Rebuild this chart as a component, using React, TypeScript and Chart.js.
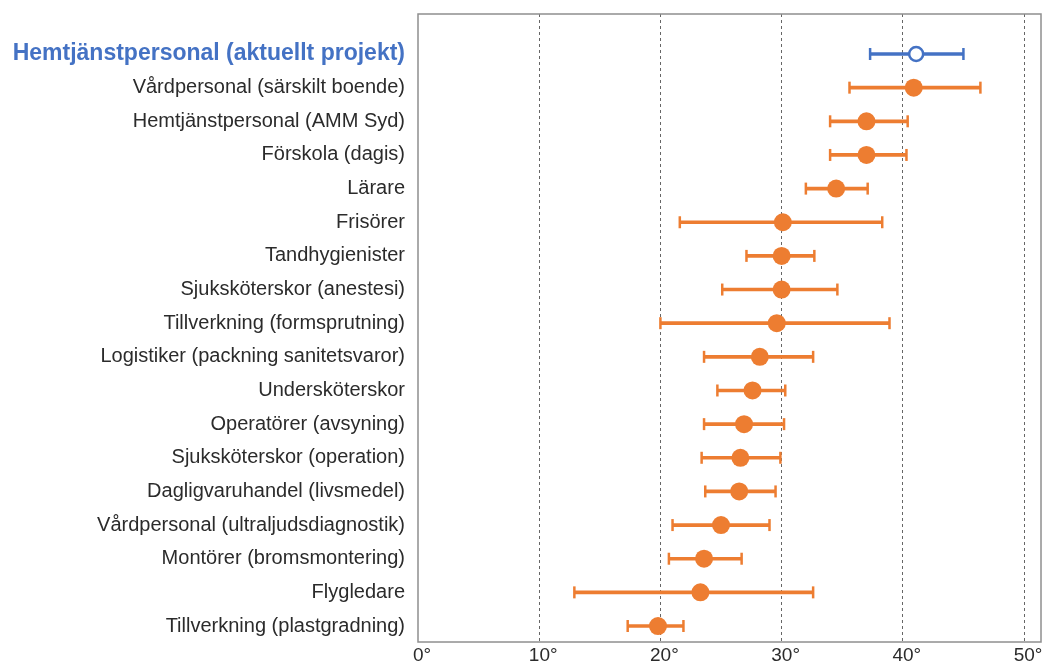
import { useEffect, useRef } from 'react';
import { Chart, registerables } from 'chart.js';

Chart.register(...registerables);

const categories = [
  'Hemtjänstpersonal (aktuellt projekt)',
  'Vårdpersonal (särskilt boende)',
  'Hemtjänstpersonal (AMM Syd)',
  'Förskola (dagis)',
  'Lärare',
  'Frisörer',
  'Tandhygienister',
  'Sjuksköterskor (anestesi)',
  'Tillverkning (formsprutning)',
  'Logistiker (packning sanitetsvaror)',
  'Undersköterskor',
  'Operatörer (avsyning)',
  'Sjuksköterskor (operation)',
  'Dagligvaruhandel (livsmedel)',
  'Vårdpersonal (ultraljudsdiagnostik)',
  'Montörer (bromsmontering)',
  'Flygledare',
  'Tillverkning (plastgradning)',
];

const means = [41.1, 40.9, 37.0, 37.0, 34.5, 30.1, 30.0, 30.0, 29.6, 28.2, 27.6, 26.9, 26.6, 26.5, 25.0, 23.6, 23.3, 19.8];
const lows = [37.3, 35.6, 34.0, 34.0, 32.0, 21.6, 27.1, 25.1, 20.0, 23.6, 24.7, 23.6, 23.4, 23.7, 21.0, 20.7, 12.9, 17.3];
const highs = [45.0, 46.4, 40.4, 40.3, 37.1, 38.3, 32.7, 34.6, 38.9, 32.6, 30.3, 30.2, 29.9, 29.5, 29.0, 26.7, 32.6, 21.9];
const xTicks = [0, 10, 20, 30, 40, 50];

const BLUE = '#4472C4';
const ORANGE = '#ED7D31';
const TEXT = '#2b2b2b';
const FONT = '"Liberation Sans", Arial, sans-serif';

const colors = categories.map((_, i) => (i === 0 ? BLUE : ORANGE));

const boxPlugin = {
  id: 'boxPlugin',
  afterDraw(chart: any) {
    const { ctx, chartArea } = chart;
    ctx.save();
    ctx.strokeStyle = '#8f8f8f';
    ctx.lineWidth = 1.5;
    ctx.strokeRect(chartArea.left, chartArea.top, chartArea.right - chartArea.left, chartArea.bottom - chartArea.top);
    ctx.restore();
  },
};

const zeroPadding = (scale: any) => {
  scale.paddingTop = 0;
  scale.paddingBottom = 0;
  scale.paddingLeft = 0;
  scale.paddingRight = 0;
};

export default function App() {
  const ref = useRef<HTMLCanvasElement | null>(null);

  useEffect(() => {
    document.body.style.margin = '0';
    const canvas = ref.current;
    if (!canvas) return;
    const chart = new Chart(canvas, {
      type: 'bar',
      data: {
        datasets: [
          {
            type: 'line',
            showLine: false,
            data: means.map((v, i) => ({ x: v, y: i })),
            pointRadius: means.map((_, i) => (i === 0 ? 7 : 9)),
            pointBackgroundColor: means.map((_, i) => (i === 0 ? '#ffffff' : ORANGE)),
            pointBorderColor: colors,
            pointBorderWidth: means.map((_, i) => (i === 0 ? 2.5 : 0)),
            order: 1,
          } as any,
          {
            type: 'line',
            showLine: false,
            data: lows.map((v, i) => ({ x: v, y: i })),
            pointStyle: 'line',
            rotation: 90,
            pointRadius: 6,
            pointBorderWidth: 2.5,
            pointBorderColor: colors,
            order: 2,
          } as any,
          {
            type: 'line',
            showLine: false,
            data: highs.map((v, i) => ({ x: v, y: i })),
            pointStyle: 'line',
            rotation: 90,
            pointRadius: 6,
            pointBorderWidth: 2.5,
            pointBorderColor: colors,
            order: 2,
          } as any,
          {
            type: 'bar',
            data: lows.map((v, i) => ({ x: [v, highs[i]], y: i })),
            backgroundColor: colors,
            barThickness: 3,
            order: 3,
          } as any,
        ],
      },
      options: {
        indexAxis: 'y',
        responsive: false,
        animation: false,
        layout: { autoPadding: false, padding: { top: 14, right: 2, left: 0, bottom: 0 } },
        plugins: {
          legend: { display: false },
          tooltip: { enabled: false },
        },
        scales: {
          x: {
            type: 'linear',
            min: 0,
            max: 51.4,
            offset: false,
            afterBuildTicks: (scale: any) => {
              scale.ticks = xTicks.map((v) => ({ value: v }));
            },
            afterFit: (scale: any) => {
              scale.height = 22;
              zeroPadding(scale);
            },
            grid: {
              offset: false,
              color: (ctx: any) => (ctx.tick && ctx.tick.value === 0 ? 'rgba(0,0,0,0)' : '#666666'),
              lineWidth: 1,
              drawTicks: false,
            },
            border: { display: false, dash: [3, 3] },
            ticks: {
              padding: 2,
              labelOffset: 4,
              color: TEXT,
              font: { family: FONT, size: 19 },
              callback: (v: any) => `${v}°`,
            },
          },
          y: {
            type: 'linear',
            reverse: true,
            offset: false,
            min: -1.189,
            max: 17.475,
            afterBuildTicks: (scale: any) => {
              scale.ticks = categories.map((_, i) => ({ value: i }));
            },
            afterFit: (scale: any) => {
              scale.width = 418;
              zeroPadding(scale);
            },
            grid: { display: false, drawTicks: false, offset: false },
            border: { display: false },
            ticks: {
              padding: 13,
              color: (ctx: any) => (ctx.index === 0 ? BLUE : TEXT),
              font: (ctx: any) =>
                ctx.index === 0
                  ? { family: FONT, size: 23, weight: 'bold' }
                  : { family: FONT, size: 20 },
              callback: (v: any) => categories[v] ?? '',
            },
          },
        },
      },
      plugins: [boxPlugin],
    } as any);
    return () => chart.destroy();
  }, []);

  return (
    <div style={{ width: 1043, height: 664 }}>
      <canvas ref={ref} width={1043} height={664} />
    </div>
  );
}
